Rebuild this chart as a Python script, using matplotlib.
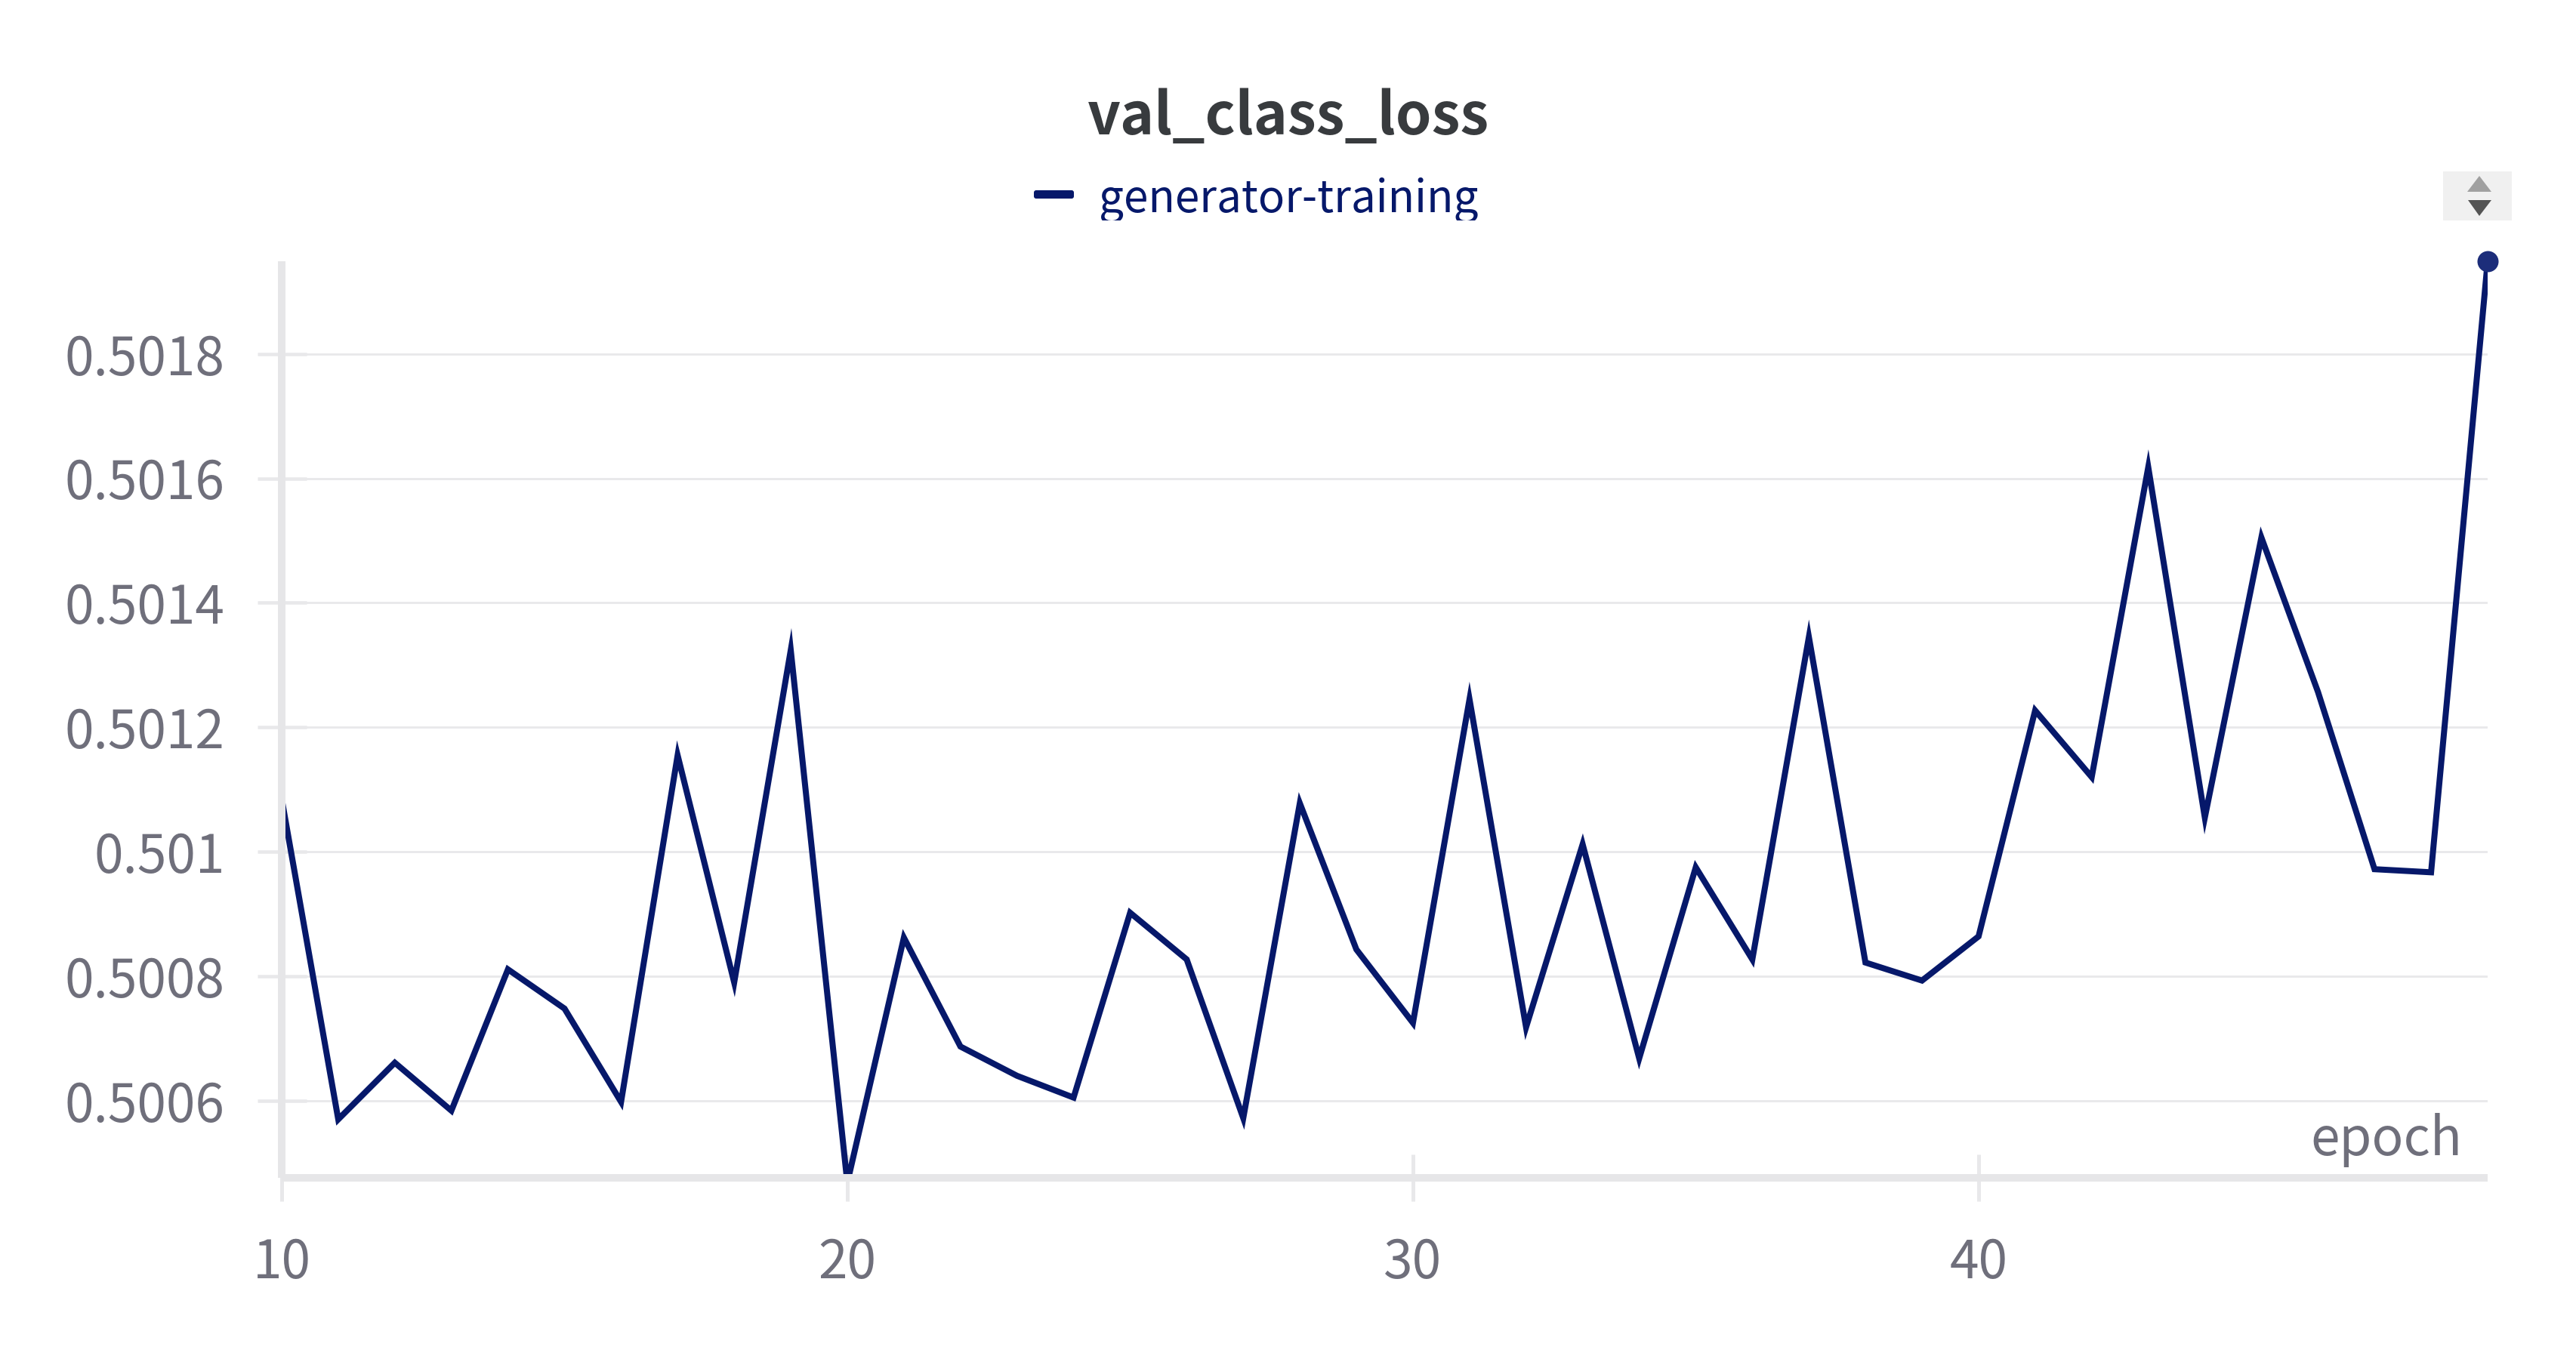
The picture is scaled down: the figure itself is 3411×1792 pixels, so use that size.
#!/usr/bin/env python3

import matplotlib
matplotlib.use('Agg')
import matplotlib.pyplot as plt
from matplotlib.patches import Polygon, Rectangle, FancyBboxPatch
from matplotlib.transforms import Affine2D

# Data
epochs = [10, 11, 12, 13, 14, 15, 16, 17, 18, 19,
          20, 21, 22, 23, 24, 25, 26, 27, 28, 29,
          30, 31, 32, 33, 34, 35, 36, 37, 38, 39,
          40, 41, 42, 43, 44, 45, 46, 47, 48, 49]
val_class_loss = [0.501085, 0.500570, 0.500661, 0.500584, 0.500811, 0.500748, 0.500598, 0.501155, 0.500790, 0.501324,
                  0.500468, 0.500862, 0.500687, 0.500640, 0.500605, 0.500902, 0.500827, 0.500572, 0.501078, 0.500843,
                  0.500725, 0.501245, 0.500718, 0.501012, 0.500668, 0.500975, 0.500827, 0.501345, 0.500822, 0.500793,
                  0.500864, 0.501227, 0.501120, 0.501618, 0.501055, 0.501505, 0.501257, 0.500972, 0.500967, 0.501949]
y_ticks = [0.5006, 0.5008, 0.501, 0.5012, 0.5014, 0.5016, 0.5018]
y_labels = ['0.5006', '0.5008', '0.501', '0.5012', '0.5014', '0.5016', '0.5018']
x_ticks = [10, 20, 30, 40]
x_labels = ['10', '20', '30', '40']
series_name = 'generator-training'

# Style
W, H = 3412, 1792
DPI = 100
px = 72 / DPI  # one pixel in points
font = ['Noto Sans CJK JP', 'DejaVu Sans']
line_color = '#06186a'
text_color = '#6f6f7b'
axis_color = '#e6e6e8'
grid_color = '#e8e8ea'

plt.rcParams['font.family'] = font

fig = plt.figure(figsize=(W / DPI, H / DPI), dpi=DPI)
# pixel coordinates measured from the top left of the image
pix = Affine2D().scale(1 / W, -1 / H).translate(0, 1) + fig.transFigure

left, right, top, bottom = 373, 3294, 346, 1560
ax = fig.add_axes([left / W, 1 - bottom / H, (right - left) / W, (bottom - top) / H])
ax.set_xlim(10, 49)
ax.set_ylim(0.500476, 0.501949)

ax.plot(epochs, val_class_loss, color=line_color, lw=8 * px, solid_joinstyle='miter', zorder=2)
ax.plot(epochs[-1], val_class_loss[-1], 'o', ms=28 * px, color='#1c2d7a', mew=0, clip_on=False, zorder=6)

ax.set_yticks(y_ticks, y_labels)
ax.set_xticks(x_ticks, x_labels)
ax.grid(axis='y', color=grid_color, lw=2.8 * px, zorder=1)
ax.set_axisbelow(True)
ax.tick_params(axis='y', direction='inout', length=65 * px, width=4.5 * px, color=grid_color,
               labelcolor=text_color, labelsize=50, pad=43 * px)
ax.tick_params(axis='x', direction='inout', length=62 * px, width=5 * px, color=grid_color,
               labelcolor=text_color, labelsize=50, pad=46 * px)

for side in ['top', 'right']:
    ax.spines[side].set_visible(False)
for side in ['left', 'bottom']:
    ax.spines[side].set_color(axis_color)
    ax.spines[side].set_linewidth(10 * px)
    ax.spines[side].set_capstyle('butt')
    ax.spines[side].set_zorder(4)

# Title, legend and axis name
fig.text(1706, 178, 'val_class_loss', transform=pix, ha='center', va='baseline',
         fontsize=55, fontweight='bold', color='#383b3e')
legend_text = fig.text(1455, 281, series_name, transform=pix, ha='left', va='baseline',
                       fontsize=42, color=line_color)
# the legend row cuts off the descenders
legend_text.set_clip_path(Rectangle((1400, 200), 700, 92, transform=pix))
legend_text.set_clip_on(True)
fig.add_artist(FancyBboxPatch((1372, 255), 47, 5, boxstyle='round,pad=3', transform=pix,
                              fc=line_color, ec='none'))
fig.text(3260, 1530, 'epoch', transform=pix, ha='right', va='baseline', fontsize=50, color=text_color)

# Legend paging control
fig.add_artist(Rectangle((3235, 227), 91, 65, transform=pix, fc='#f0f0f0', ec='none'))
fig.add_artist(Polygon([(3283, 233), (3267, 254), (3299, 254)], transform=pix, fc='#a0a0a0', ec='none'))
fig.add_artist(Polygon([(3268, 265), (3299, 265), (3283, 286)], transform=pix, fc='#545454', ec='none'))

fig.savefig('out.png', dpi=DPI)
